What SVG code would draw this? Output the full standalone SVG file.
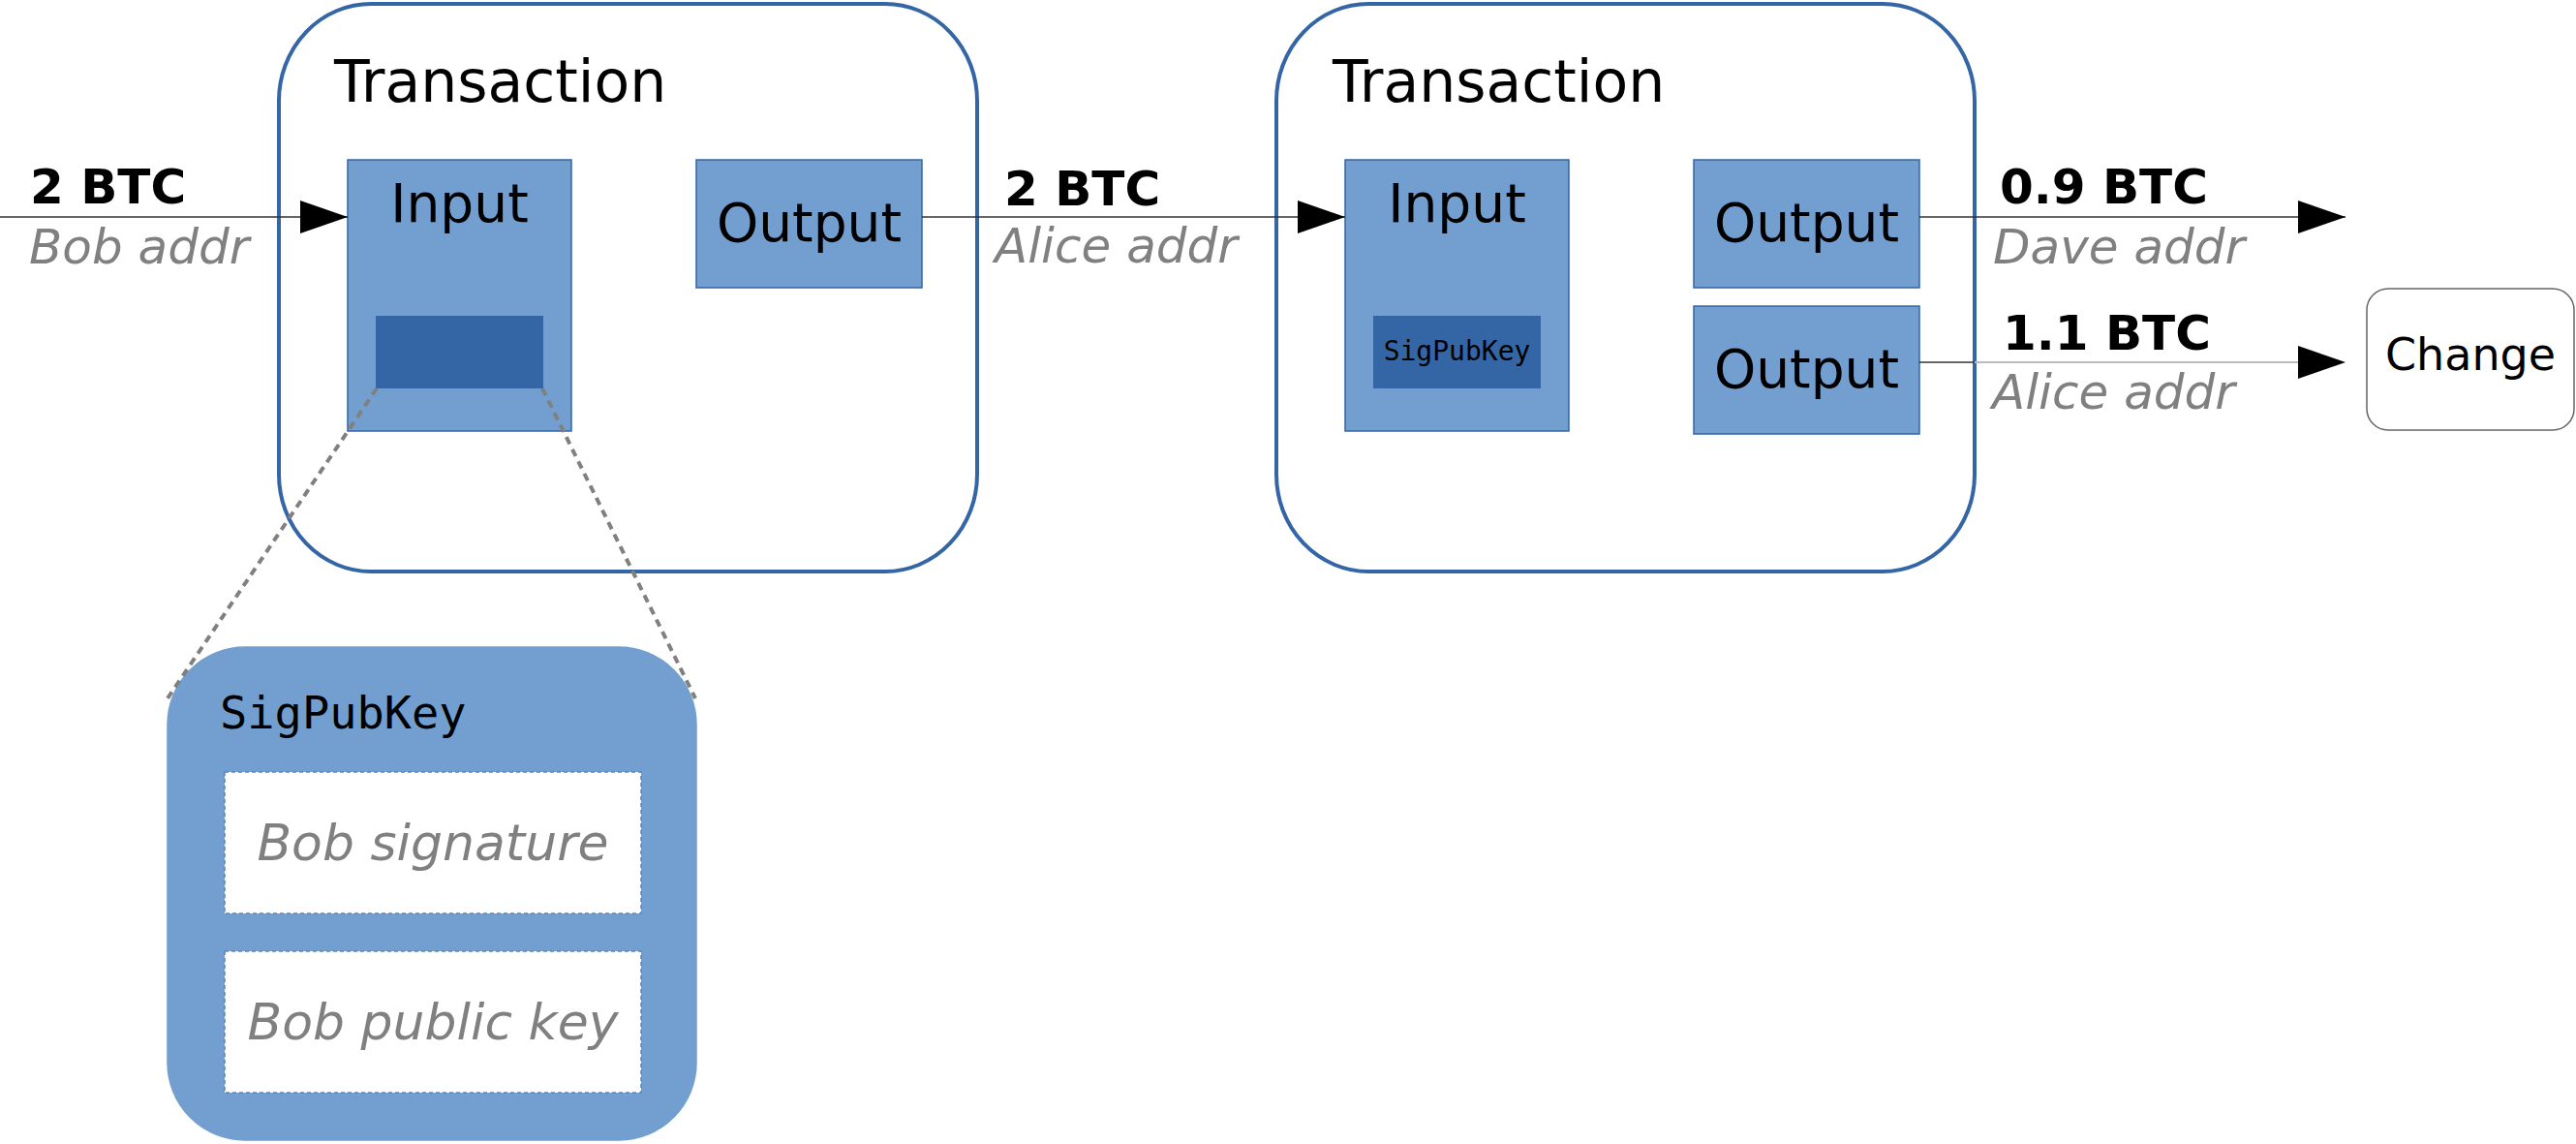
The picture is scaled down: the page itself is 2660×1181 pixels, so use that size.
<svg xmlns="http://www.w3.org/2000/svg" width="2660" height="1181" viewBox="0 0 2660 1181">
<style>
.tx{fill:#ffffff;stroke:#3465a4;stroke-width:4}
.blk{fill:#729fcf;stroke:#3465a4;stroke-width:1.5}
.dark{fill:#3465a4;stroke:none}
.t{font-family:"DejaVu Sans","Noto Sans",sans-serif;fill:#000}
.mono{font-family:"DejaVu Sans Mono","Liberation Mono",monospace;fill:#000}
.amt{font-family:"DejaVu Sans","Noto Sans",sans-serif;font-weight:bold;font-size:50px;fill:#000}
.addr{font-family:"DejaVu Sans","Noto Sans",sans-serif;font-style:italic;font-size:50px;fill:#808080}
.conn{stroke:#333333;stroke-width:1.5;fill:none}
.zoomln{stroke:#808080;stroke-width:4;stroke-dasharray:8,6;fill:none}
.slot{fill:#ffffff;stroke:#5b87c0;stroke-width:1.5;stroke-dasharray:4,3}
</style>
<defs>
<marker id="arr" markerUnits="userSpaceOnUse" markerWidth="50" markerHeight="36" refX="49" refY="17" orient="auto">
<path d="M0,0 L49,17 L0,34 Z" fill="#000"/>
</marker>
</defs>

<g id="tx1">
<rect class="tx" x="288" y="4" width="721" height="586" rx="95" ry="100"/>
<text class="t" x="345" y="105" font-size="60">Transaction</text>
</g>
<g id="input1">
<rect class="blk" x="359" y="165" width="231" height="280"/>
<text class="t" x="474.5" y="229" font-size="55" text-anchor="middle">Input</text>
<rect class="dark" x="388" y="326" width="173" height="75"/>
</g>
<g id="output1">
<rect class="blk" x="719" y="165" width="233" height="132"/>
<text class="t" x="835.5" y="249" font-size="55" text-anchor="middle">Output</text>
</g>

<g id="tx2">
<rect class="tx" x="1318" y="4" width="721" height="586" rx="95" ry="100"/>
<text class="t" x="1376" y="105" font-size="60">Transaction</text>
</g>
<g id="input2">
<rect class="blk" x="1389" y="165" width="231" height="280"/>
<text class="t" x="1504.5" y="229" font-size="55" text-anchor="middle">Input</text>
<rect class="dark" x="1418" y="326" width="173" height="75"/>
<text class="mono" x="1504.5" y="372" font-size="28" text-anchor="middle">SigPubKey</text>
</g>
<g id="output2a">
<rect class="blk" x="1749" y="165" width="233" height="132"/>
<text class="t" x="1865.5" y="249" font-size="55" text-anchor="middle">Output</text>
</g>
<g id="output2b">
<rect class="blk" x="1749" y="316" width="233" height="132"/>
<text class="t" x="1865.5" y="400" font-size="55" text-anchor="middle">Output</text>
</g>

<g id="change">
<rect x="2444" y="298" width="214" height="146" rx="22" ry="22" fill="#ffffff" stroke="#666666" stroke-width="1.5"/>
<text class="t" x="2551" y="382" font-size="46" text-anchor="middle">Change</text>
</g>

<g id="sigpubkey">
<rect x="173" y="668" width="546" height="509" rx="80" ry="80" fill="#729fcf" stroke="#729fcf" stroke-width="1.5"/>
<text class="mono" x="227" y="752" font-size="47">SigPubKey</text>
<rect class="slot" x="232" y="797" width="430" height="146"/>
<text class="addr" x="447" y="888" font-size="52" text-anchor="middle" style="font-size:52px">Bob signature</text>
<rect class="slot" x="232" y="982" width="430" height="146"/>
<text class="addr" x="447" y="1073" text-anchor="middle" style="font-size:52px">Bob public key</text>
</g>

<g id="connectors">
<line class="conn" x1="0" y1="224" x2="359" y2="224" marker-end="url(#arr)"/>
<line class="conn" x1="952" y1="224" x2="1389" y2="224" marker-end="url(#arr)"/>
<line class="conn" x1="1982" y1="224" x2="2422" y2="224" marker-end="url(#arr)"/>
<line class="conn" x1="1982" y1="374" x2="2039" y2="374"/>
<line x1="2039" y1="374" x2="2400" y2="374" stroke="#bbbbbb" stroke-width="2"/>
<line class="conn" x1="2380" y1="374" x2="2422" y2="374" stroke-opacity="0" marker-end="url(#arr)"/>
<line class="zoomln" x1="389" y1="401" x2="173" y2="721"/>
<line class="zoomln" x1="560" y1="401" x2="718" y2="721"/>
</g>

<g id="labels">
<text class="amt" x="31" y="210">2 BTC</text>
<text class="addr" x="30" y="272">Bob addr</text>
<text class="amt" x="1037" y="212">2 BTC</text>
<text class="addr" x="1027" y="271">Alice addr</text>
<text class="amt" x="2065" y="210">0.9 BTC</text>
<text class="addr" x="2058" y="272">Dave addr</text>
<text class="amt" x="2068" y="361">1.1 BTC</text>
<text class="addr" x="2057" y="422">Alice addr</text>
</g>
</svg>
